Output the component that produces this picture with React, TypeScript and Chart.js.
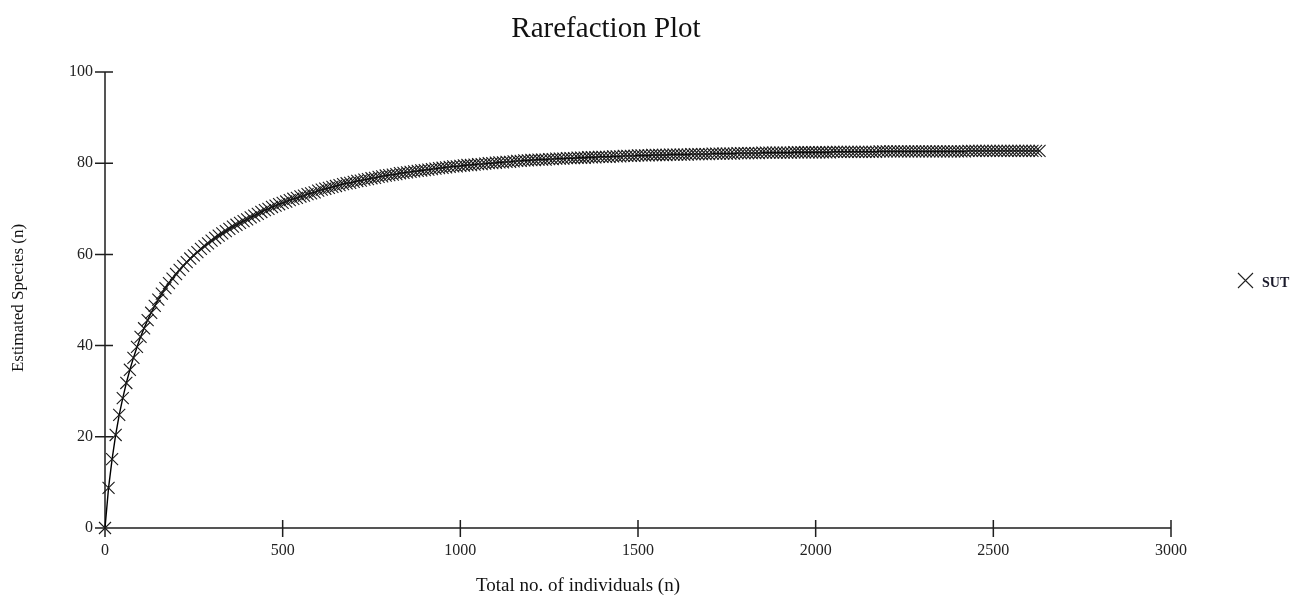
import { useEffect, useRef } from "react";
import { Chart, registerables } from "chart.js";

Chart.register(...registerables);

const chartTitle = "Rarefaction Plot";
const xAxisTitle = "Total no. of individuals (n)";
const yAxisTitle = "Estimated Species (n)";
const seriesName = "SUT";

const xTickValues = [0, 500, 1000, 1500, 2000, 2500, 3000];
const yTickValues = [0, 20, 40, 60, 80, 100];

const individuals = [
  0, 10, 20, 30, 40, 50, 60, 70, 80, 90,
  100, 110, 120, 130, 140, 150, 160, 170, 180, 190,
  200, 210, 220, 230, 240, 250, 260, 270, 280, 290,
  300, 310, 320, 330, 340, 350, 360, 370, 380, 390,
  400, 410, 420, 430, 440, 450, 460, 470, 480, 490,
  500, 510, 520, 530, 540, 550, 560, 570, 580, 590,
  600, 610, 620, 630, 640, 650, 660, 670, 680, 690,
  700, 710, 720, 730, 740, 750, 760, 770, 780, 790,
  800, 810, 820, 830, 840, 850, 860, 870, 880, 890,
  900, 910, 920, 930, 940, 950, 960, 970, 980, 990,
  1000, 1010, 1020, 1030, 1040, 1050, 1060, 1070, 1080, 1090,
  1100, 1110, 1120, 1130, 1140, 1150, 1160, 1170, 1180, 1190,
  1200, 1210, 1220, 1230, 1240, 1250, 1260, 1270, 1280, 1290,
  1300, 1310, 1320, 1330, 1340, 1350, 1360, 1370, 1380, 1390,
  1400, 1410, 1420, 1430, 1440, 1450, 1460, 1470, 1480, 1490,
  1500, 1510, 1520, 1530, 1540, 1550, 1560, 1570, 1580, 1590,
  1600, 1610, 1620, 1630, 1640, 1650, 1660, 1670, 1680, 1690,
  1700, 1710, 1720, 1730, 1740, 1750, 1760, 1770, 1780, 1790,
  1800, 1810, 1820, 1830, 1840, 1850, 1860, 1870, 1880, 1890,
  1900, 1910, 1920, 1930, 1940, 1950, 1960, 1970, 1980, 1990,
  2000, 2010, 2020, 2030, 2040, 2050, 2060, 2070, 2080, 2090,
  2100, 2110, 2120, 2130, 2140, 2150, 2160, 2170, 2180, 2190,
  2200, 2210, 2220, 2230, 2240, 2250, 2260, 2270, 2280, 2290,
  2300, 2310, 2320, 2330, 2340, 2350, 2360, 2370, 2380, 2390,
  2400, 2410, 2420, 2430, 2440, 2450, 2460, 2470, 2480, 2490,
  2500, 2510, 2520, 2530, 2540, 2550, 2560, 2570, 2580, 2590,
  2600, 2610, 2620, 2630,
];

const estimatedSpecies = [
  0, 8.8, 15.1, 20.4, 24.8, 28.5, 31.8, 34.7, 37.3, 39.7,
  41.9, 43.8, 45.6, 47.2, 48.7, 50.1, 51.4, 52.6, 53.7, 54.7,
  55.7, 56.6, 57.5, 58.3, 59.1, 59.8, 60.5, 61.2, 61.8, 62.4,
  63.0, 63.6, 64.1, 64.6, 65.1, 65.6, 66.1, 66.5, 66.9, 67.3,
  67.7, 68.1, 68.5, 68.9, 69.3, 69.7, 70.0, 70.4, 70.7, 71.0,
  71.3, 71.6, 71.9, 72.2, 72.4, 72.7, 72.9, 73.2, 73.4, 73.6,
  74.0, 74.2, 74.4, 74.6, 74.8, 75.0, 75.2, 75.4, 75.6, 75.7,
  75.9, 76.1, 76.2, 76.4, 76.5, 76.7, 76.8, 77.0, 77.1, 77.3,
  77.4, 77.5, 77.6, 77.8, 77.9, 78.0, 78.1, 78.2, 78.3, 78.4,
  78.5, 78.6, 78.7, 78.8, 78.9, 79.0, 79.1, 79.2, 79.3, 79.3,
  79.4, 79.5, 79.6, 79.6, 79.7, 79.8, 79.8, 79.9, 80.0, 80.0,
  80.1, 80.2, 80.2, 80.3, 80.3, 80.4, 80.5, 80.5, 80.6, 80.6,
  80.7, 80.7, 80.8, 80.8, 80.8, 80.9, 80.9, 81.0, 81.0, 81.0,
  81.1, 81.1, 81.1, 81.2, 81.2, 81.2, 81.3, 81.3, 81.3, 81.4,
  81.4, 81.4, 81.4, 81.5, 81.5, 81.5, 81.6, 81.6, 81.6, 81.6,
  81.7, 81.7, 81.7, 81.7, 81.8, 81.8, 81.8, 81.8, 81.8, 81.9,
  81.9, 81.9, 81.9, 81.9, 81.9, 82.0, 82.0, 82.0, 82.0, 82.0,
  82.0, 82.1, 82.1, 82.1, 82.1, 82.1, 82.1, 82.1, 82.2, 82.2,
  82.2, 82.2, 82.2, 82.2, 82.2, 82.3, 82.3, 82.3, 82.3, 82.3,
  82.3, 82.3, 82.3, 82.3, 82.4, 82.4, 82.4, 82.4, 82.4, 82.4,
  82.4, 82.4, 82.4, 82.4, 82.4, 82.5, 82.5, 82.5, 82.5, 82.5,
  82.5, 82.5, 82.5, 82.5, 82.5, 82.5, 82.5, 82.5, 82.6, 82.6,
  82.6, 82.6, 82.6, 82.6, 82.6, 82.6, 82.6, 82.6, 82.6, 82.6,
  82.6, 82.6, 82.6, 82.6, 82.6, 82.6, 82.6, 82.6, 82.6, 82.6,
  82.6, 82.6, 82.6, 82.7, 82.7, 82.7, 82.7, 82.7, 82.7, 82.7,
  82.7, 82.7, 82.7, 82.7, 82.7, 82.7, 82.7, 82.7, 82.7, 82.7,
  82.7, 82.7, 82.7, 82.7,
];

const SERIF = "'Liberation Serif', 'Times New Roman', serif";

export default function App() {
  const canvasRef = useRef<HTMLCanvasElement | null>(null);

  useEffect(() => {
    document.body.style.margin = "0";
    const canvas = canvasRef.current;
    if (!canvas) return;

    const axesPlugin = {
      id: "customAxes",
      beforeDatasetsDraw(chart: any) {
        const { ctx } = chart;
        const xs = chart.scales.x;
        const ys = chart.scales.y;
        const x0 = xs.getPixelForValue(xTickValues[0]);
        const x1 = xs.getPixelForValue(xTickValues[xTickValues.length - 1]);
        const y0 = ys.getPixelForValue(yTickValues[0]);
        const y1 = ys.getPixelForValue(yTickValues[yTickValues.length - 1]);
        ctx.save();
        ctx.strokeStyle = "#1e1e1e";
        ctx.lineWidth = 1.5;
        ctx.beginPath();
        ctx.moveTo(x0, y1);
        ctx.lineTo(x0, y0);
        ctx.moveTo(x0, y0);
        ctx.lineTo(x1, y0);
        for (const v of yTickValues) {
          const py = ys.getPixelForValue(v);
          ctx.moveTo(x0 - 10, py);
          ctx.lineTo(x0 + 8, py);
        }
        for (const v of xTickValues) {
          const px = xs.getPixelForValue(v);
          ctx.moveTo(px, y0 - 8);
          ctx.lineTo(px, y0 + 9);
        }
        ctx.stroke();
        ctx.restore();
      },
      afterDraw(chart: any) {
        const { ctx } = chart;
        ctx.save();
        ctx.fillStyle = "#111";
        ctx.textBaseline = "alphabetic";

        ctx.font = `29px ${SERIF}`;
        ctx.textAlign = "center";
        ctx.fillText(chartTitle, 606, 37);

        ctx.font = `19px ${SERIF}`;
        ctx.fillText(xAxisTitle, 578, 591);

        ctx.save();
        ctx.translate(23, 298);
        ctx.rotate(-Math.PI / 2);
        ctx.textAlign = "center";
        ctx.font = `17px ${SERIF}`;
        ctx.fillText(yAxisTitle, 0, 0);
        ctx.restore();

        // legend
        const cx = 1245.5;
        const cy = 280.5;
        const h = 7.5;
        ctx.strokeStyle = "#222";
        ctx.lineWidth = 1.1;
        ctx.beginPath();
        ctx.moveTo(cx - h, cy - h);
        ctx.lineTo(cx + h, cy + h);
        ctx.moveTo(cx + h, cy - h);
        ctx.lineTo(cx - h, cy + h);
        ctx.stroke();
        ctx.font = `bold 14px ${SERIF}`;
        ctx.textAlign = "left";
        ctx.fillStyle = "#1a1a2a";
        ctx.fillText(seriesName, 1262, 287);
        ctx.restore();
      },
    };

    const points = individuals.map((n, i) => ({ x: n, y: estimatedSpecies[i] }));

    const chart = new Chart(canvas, {
      type: "line",
      data: {
        datasets: [
          {
            label: seriesName,
            data: points,
            borderColor: "#000",
            borderWidth: 1.4,
            pointStyle: "crossRot",
            pointRadius: 8.5,
            pointBorderWidth: 1.1,
            pointBorderColor: "#1a1a1a",
            pointBackgroundColor: "rgba(0,0,0,0)",
            fill: false,
            tension: 0,
            clip: false as any,
          },
        ],
      },
      options: {
        responsive: false,
        animation: false,
        events: [],
        layout: { padding: { left: 8, top: 72, right: 136, bottom: 0 } },
        plugins: {
          legend: { display: false },
          title: { display: false },
          tooltip: { enabled: false },
        },
        scales: {
          x: {
            type: "linear",
            min: 0,
            max: 3000,
            afterBuildTicks: (scale: any) => {
              scale.ticks = xTickValues.map((v) => ({ value: v }));
            },
            ticks: {
              font: { family: SERIF, size: 16 },
              color: "#222",
              padding: 13,
              maxRotation: 0,
              callback: (v: any) => String(v),
            },
            grid: { display: false, drawTicks: false },
            border: { display: false },
            afterFit: (scale: any) => {
              scale.height = 74;
            },
          },
          y: {
            type: "linear",
            min: 0,
            max: 100,
            afterBuildTicks: (scale: any) => {
              scale.ticks = yTickValues.map((v) => ({ value: v }));
            },
            ticks: {
              font: { family: SERIF, size: 16 },
              color: "#222",
              padding: 12,
              callback: (v: any) => String(v),
            },
            grid: { display: false, drawTicks: false },
            border: { display: false },
            afterFit: (scale: any) => {
              scale.width = 97;
            },
          },
        },
      },
      plugins: [axesPlugin],
    });

    return () => {
      chart.destroy();
    };
  }, []);

  return (
    <div style={{ width: 1307, height: 602, background: "#fff" }}>
      <canvas ref={canvasRef} width={1307} height={602} style={{ display: "block" }} />
    </div>
  );
}
